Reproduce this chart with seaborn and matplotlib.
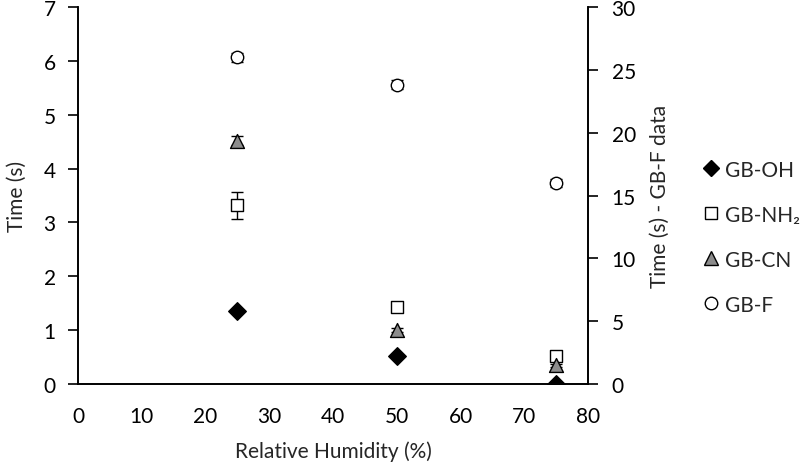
import numpy as np
import pandas as pd
import matplotlib
matplotlib.use("Agg")
import matplotlib.pyplot as plt
import seaborn as sns
from matplotlib.lines import Line2D

# data
humidity = [25, 50, 75]
gb_oh = [1.35, 0.52, 0.0]
gb_oh_err = [0.03, 0.02, 0.0]
gb_nh2 = [3.32, 1.43, 0.52]
gb_nh2_err = [0.25, 0.06, 0.04]
gb_cn = [4.52, 1.00, 0.35]
gb_cn_err = [0.08, 0.04, 0.03]
gb_f = [26.0, 23.8, 16.0]          # plotted on the right axis
gb_f_err = [0.35, 0.35, 0.3]

sns.set_style("white")
plt.rcParams['font.family'] = ['Lato', 'DejaVu Sans']
plt.rcParams['font.size'] = 15

fig = plt.figure(figsize=(8, 4.64), dpi=100)
ax = fig.add_axes([0.0975, 0.170, 0.6375, 0.813])
ax2 = ax.twinx()

left = pd.DataFrame({
    "rh": humidity * 3,
    "t": gb_oh + gb_nh2 + gb_cn,
    "err": gb_oh_err + gb_nh2_err + gb_cn_err,
    "series": ["GB-OH"] * 3 + ["GB-NH2"] * 3 + ["GB-CN"] * 3,
})

styles = {
    "GB-OH": dict(marker="D", facecolor="black", size=80),
    "GB-NH2": dict(marker="s", facecolor="white", size=80),
    "GB-CN": dict(marker="^", facecolor="#8c8c8c", size=100),
}

for name, st in styles.items():
    d = left[left.series == name]
    ax.errorbar(d.rh, d.t, yerr=d.err, fmt="none", ecolor="black",
                elinewidth=1, capsize=4, zorder=2)
    sns.scatterplot(data=d, x="rh", y="t", marker=st["marker"], s=st["size"],
                    color=st["facecolor"], edgecolor="black", linewidth=1,
                    ax=ax, zorder=3, legend=False)

ax2.errorbar(humidity, gb_f, yerr=gb_f_err, fmt="none", ecolor="black",
             elinewidth=1, capsize=4, zorder=2)
sns.scatterplot(x=humidity, y=gb_f, marker="o", s=80, color="white",
                edgecolor="black", linewidth=1, ax=ax2, zorder=3, legend=False)

ax.set_xlim(0, 80)
ax.set_ylim(0, 7)
ax2.set_ylim(0, 30)
ax.set_xticks(np.arange(0, 81, 10))
ax.set_yticks(np.arange(0, 8, 1))
ax2.set_yticks(np.arange(0, 31, 5))

ax.set_xlabel("Relative Humidity (%)", labelpad=10)
ax.set_ylabel("Time (s)", labelpad=12)
ax2.set_ylabel("Time (s) - GB-F data", labelpad=10)

for a in (ax, ax2):
    for s in a.spines.values():
        s.set_color("black")
        s.set_linewidth(1.2)
    a.spines["top"].set_visible(False)
ax.tick_params(axis="both", direction="out", length=7, width=1.2,
               colors="black", pad=9)
ax2.tick_params(axis="y", direction="out", length=7, width=1.2,
                colors="black", pad=10)

handles = [
    Line2D([], [], ls="none", marker="D", mfc="black", mec="black", ms=8),
    Line2D([], [], ls="none", marker="s", mfc="white", mec="black", ms=9),
    Line2D([], [], ls="none", marker="^", mfc="#8c8c8c", mec="black", ms=10),
    Line2D([], [], ls="none", marker="o", mfc="white", mec="black", ms=9),
]
labels = ["GB-OH", "GB-NH₂", "GB-CN", "GB-F"]
fig.legend(handles, labels, loc="center left", bbox_to_anchor=(0.85, 0.487),
           frameon=False, handletextpad=0.05, labelspacing=1.2, fontsize=15,
           handlelength=1.2)

fig.savefig("out.png", dpi=100)
